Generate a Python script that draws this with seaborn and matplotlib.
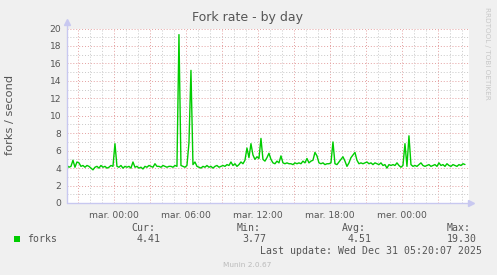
import numpy as np
import pandas as pd
import matplotlib
matplotlib.use("Agg")
import matplotlib.pyplot as plt
from matplotlib.ticker import MultipleLocator, FuncFormatter
import seaborn as sns

# ---------------- data ----------------
title = "Fork rate - by day"
y_label = "forks / second"
series_name = "forks"
start_hour = -3.92          # hours relative to Tue 00:00
step_hours = 1.0 / 6.0      # 10-minute samples
forks = [
    4.3, 4.1, 4.2, 4.9, 4.1, 4.7, 4.6, 4.2, 4.3, 4.1, 4.3, 4.2, 4.0, 3.8, 4.1, 4.2, 4.0, 4.3, 4.1, 4.2,
    4.0, 4.1, 4.3, 4.2, 6.8, 4.2, 4.1, 4.3, 4.0, 4.2, 4.1, 4.2, 4.0, 4.7, 4.1, 4.2, 4.0, 4.1, 3.9, 4.2,
    4.1, 4.3, 4.2, 4.1, 4.5, 4.2, 4.2, 4.1, 4.3, 4.2, 4.1, 4.2, 4.2, 4.1, 4.3, 4.2, 19.3, 4.3, 4.2, 4.1,
    4.3, 6.9, 15.2, 4.4, 4.7, 4.2, 4.1, 4.0, 4.2, 4.1, 4.3, 4.1, 4.2, 4.0, 4.2, 4.3, 4.1, 4.2, 4.3, 4.2,
    4.4, 4.3, 4.7, 4.3, 4.5, 4.2, 4.4, 4.7, 4.5, 4.9, 6.3, 5.2, 6.8, 5.5, 5.0, 5.3, 5.1, 7.4, 5.0, 4.8,
    5.2, 5.7, 5.0, 4.6, 4.5, 4.8, 4.6, 5.4, 4.6, 4.5, 4.6, 4.5, 4.5, 4.4, 4.6, 4.5, 4.6, 4.5, 4.8, 4.6,
    5.1, 4.6, 4.8, 4.9, 5.8, 5.4, 4.6, 4.5, 4.6, 4.4, 4.5, 4.5, 4.6, 7.0, 4.5, 4.4, 4.7, 5.0, 5.3, 4.8,
    4.2, 4.6, 5.2, 5.5, 5.8, 4.9, 4.5, 4.6, 4.5, 4.6, 4.7, 4.5, 4.6, 4.4, 4.6, 4.5, 4.4, 4.6, 4.3, 4.4,
    4.0, 4.4, 4.3, 4.4, 4.3, 4.6, 4.3, 4.1, 4.3, 6.8, 4.2, 7.7, 4.4, 4.2, 4.3, 4.2, 4.4, 4.6, 4.3, 4.2,
    4.3, 4.4, 4.2, 4.3, 4.4, 4.2, 4.6, 4.3, 4.4, 4.2, 4.5, 4.3, 4.2, 4.4, 4.3, 4.2, 4.4, 4.3, 4.5, 4.41,
]
tick_hours = [0, 6, 12, 18, 24]
tick_labels = ["mar. 00:00", "mar. 06:00", "mar. 12:00", "mar. 18:00", "mer. 00:00"]
stat_names = ["Cur:", "Min:", "Avg:", "Max:"]
stat_values = ["4.41", "3.77", "4.51", "19.30"]
last_update = "Last update: Wed Dec 31 05:20:07 2025"
version_text = "Munin 2.0.67"
side_text = "RRDTOOL / TOBI OETIKER"

df = pd.DataFrame({
    "hour": start_hour + step_hours * np.arange(len(forks)),
    "value": forks,
})

# ---------------- figure ----------------
sns.set_theme(style="white")
plt.rcParams["font.family"] = ["DejaVu Sans"]

W, H = 497, 275
fig = plt.figure(figsize=(W / 100, H / 100), dpi=100, facecolor="#F0F0F0")

def fx(px):
    return px / W

def fy(py):
    return 1 - py / H

x0, x1 = 67, 469
y0, y1 = 203, 28.5
ax = fig.add_axes([fx(x0), fy(y0), (x1 - x0) / W, (y0 - y1) / H])
ax.set_facecolor("white")

sns.lineplot(data=df, x="hour", y="value", ax=ax, color="#00CC00", linewidth=1.0)

ax.set_xlim((x0 - 114) / 12.0, (x1 - 114) / 12.0)
ax.set_ylim(0, 20)

ax.xaxis.set_major_locator(MultipleLocator(3))
ax.xaxis.set_minor_locator(MultipleLocator(1))
ax.yaxis.set_major_locator(MultipleLocator(2))
ax.yaxis.set_minor_locator(MultipleLocator(1))
label_map = dict(zip(tick_hours, tick_labels))
ax.xaxis.set_major_formatter(FuncFormatter(lambda v, p: label_map.get(int(round(v)), "") if abs(v - round(v)) < 1e-6 else ""))

ax.grid(which="minor", color="#C8C8C8", linestyle=(0, (1, 2)), linewidth=0.7)
ax.grid(which="major", color="#E4A0A0", linestyle=(0, (1, 2)), linewidth=0.7)
ax.set_axisbelow(True)

ax.tick_params(axis="x", which="major", direction="out", length=3, width=0.7, color="#E09090",
               labelsize=6.6, labelcolor="#555555", pad=3)
ax.tick_params(axis="y", which="major", direction="out", length=2, width=0.7, color="#E09090",
               labelsize=6.6, labelcolor="#555555", pad=2)
ax.tick_params(which="minor", length=0)

for s in ax.spines.values():
    s.set_visible(False)
ax.set_xlabel("")
ax.set_ylabel("")

# axis lines with arrows
axis_col = "#C8C8F0"
ax.plot([0, 0], [0, 1.02], transform=ax.transAxes, color=axis_col, lw=1, clip_on=False)
ax.plot([0, 1.0], [0, 0], transform=ax.transAxes, color=axis_col, lw=1, clip_on=False)
ax.plot([0], [1.035], transform=ax.transAxes, marker="^", color=axis_col, ms=5, clip_on=False)
ax.plot([1.005], [0], transform=ax.transAxes, marker=">", color=axis_col, ms=5, clip_on=False)

# texts
fig.text(fx(248), fy(18), title, ha="center", va="center", fontsize=9, color="#555555")
fig.text(fx(10), fy(115), y_label, ha="center", va="center", rotation=90, fontsize=8.2, color="#555555")
fig.text(fx(487), fy(53), side_text, ha="center", va="center", rotation=270, fontsize=5.2, color="#C8C8C8")

mono = "DejaVu Sans Mono"
fig.patches.append(plt.Rectangle((fx(14), fy(242)), 6 / W, 6 / H, transform=fig.transFigure,
                                 facecolor="#00CC00", edgecolor="none"))
fig.text(fx(27), fy(239.5), series_name, ha="left", va="center", fontsize=7.1, color="#555555", family=mono)

name_left = [131.7, 237, 342, 447]
value_right = [161, 266, 371.5, 477]
for nm, val, xl, xr in zip(stat_names, stat_values, name_left, value_right):
    fig.text(fx(xl), fy(228), nm, ha="left", va="center", fontsize=7.1, color="#555555", family=mono)
    fig.text(fx(xr), fy(239.5), val, ha="right", va="center", fontsize=7.1, color="#555555", family=mono)

fig.text(fx(482), fy(251.5), last_update, ha="right", va="center", fontsize=7.1, color="#555555", family=mono)
fig.text(fx(247.5), fy(265), version_text, ha="center", va="center", fontsize=5.3, color="#BBBBBB")

fig.savefig("out.png", dpi=100, facecolor=fig.get_facecolor())
